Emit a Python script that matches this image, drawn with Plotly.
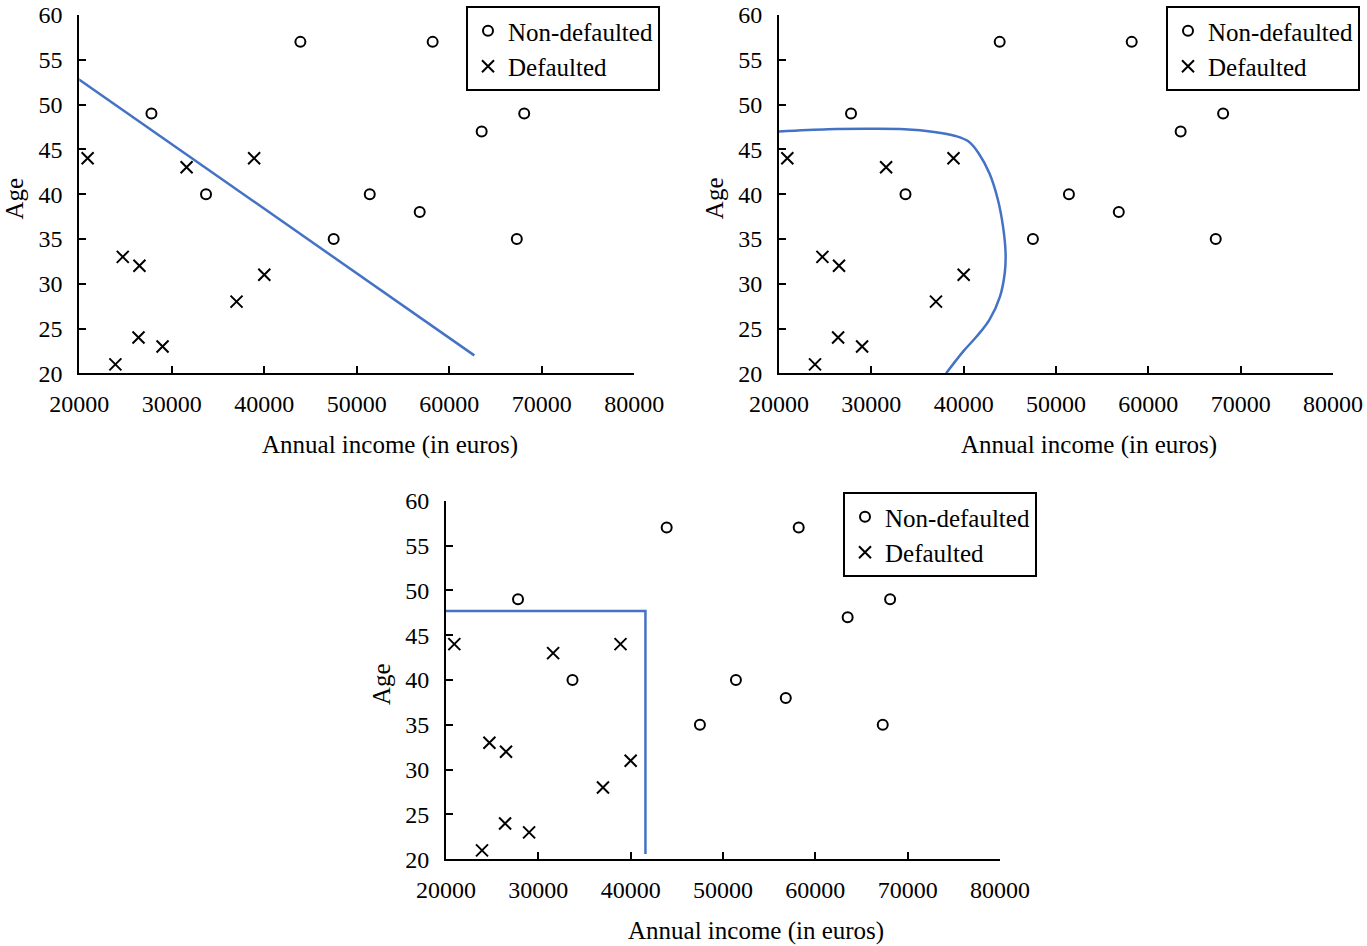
import plotly.graph_objects as go

# customers that did not default: annual income (euros) and age
nondef_income = [43900, 58200, 27800, 63500, 68100, 33700, 51400, 56800, 47500, 67300]
nondef_age = [57, 57, 49, 47, 49, 40, 40, 38, 35, 35]

# customers that defaulted
def_income = [20900, 31600, 38900, 24700, 26500, 37000, 40000, 26400, 29000, 23900]
def_age = [44, 43, 44, 33, 32, 28, 31, 24, 23, 21]

# decision boundaries of the three classifiers
linear_x = [19700, 62700]
linear_y = [53, 22]

curve_x = [20000, 25300, 29900, 33600, 36800, 39100, 40500, 41600, 42800, 43700,
           44260, 44540, 44450, 43940, 42800, 41400, 40000, 38100]
curve_y = [47.0, 47.25, 47.3, 47.25, 46.95, 46.5, 45.9, 44.6, 42.3, 39.4,
           36.4, 33.4, 31.2, 28.6, 26.0, 24.1, 22.5, 20.0]

tree_x = [20000, 41600, 41600]
tree_y = [47.7, 47.7, 20.6]

x_ticks = [20000, 30000, 40000, 50000, 60000, 70000, 80000]
y_ticks = [20, 25, 30, 35, 40, 45, 50, 55, 60]

FONT = "Liberation Serif"
BLUE = "#4472C4"

boundaries = [(linear_x, linear_y, "linear"), (curve_x, curve_y, "spline"), (tree_x, tree_y, "linear")]

fig = go.Figure()

for i, (bx, by, shape) in enumerate(boundaries):
    n = "" if i == 0 else str(i + 1)
    leg = "legend" + n
    fig.add_trace(go.Scatter(x=nondef_income, y=nondef_age, mode="markers", name="Non-defaulted",
                             xaxis="x" + n, yaxis="y" + n, legend=leg,
                             marker=dict(symbol="circle-open", size=10, color="black", line=dict(width=2))))
    fig.add_trace(go.Scatter(x=def_income, y=def_age, mode="markers", name="Defaulted",
                             xaxis="x" + n, yaxis="y" + n, legend=leg,
                             marker=dict(symbol="x-thin-open", size=12, color="black", line=dict(width=2, color="black"))))
    fig.add_trace(go.Scatter(x=bx, y=by, mode="lines", showlegend=False,
                             xaxis="x" + n, yaxis="y" + n,
                             line=dict(color=BLUE, width=2.5, shape=shape)))

W, H = 1367, 946
# plot areas in pixels: left, right, top, bottom
areas = [(79.3, 634.3, 15, 373.3), (779, 1333, 15, 373.3), (446, 1000, 500.7, 859.3)]
legends = [(466, 6), (1166, 6), (843, 492)]

def px(x):
    return x / W

def py(y):
    return 1 - y / H

axis_common = dict(showline=True, linecolor="black", linewidth=2, ticks="inside", ticklen=7,
                   tickwidth=1.5, tickcolor="black", showgrid=False, zeroline=False,
                   automargin=False,
                   tickfont=dict(family=FONT, size=24, color="black"))

layout = dict(width=W, height=H, margin=dict(l=0, r=0, t=0, b=0, autoexpand=False),
              font=dict(family=FONT, color="black"),
              plot_bgcolor="white", paper_bgcolor="white", annotations=[])

for i, (l, r, t, b) in enumerate(areas):
    n = "" if i == 0 else str(i + 1)
    layout["xaxis" + n] = dict(axis_common, domain=[px(l), px(r)], range=[20000, 80000],
                               tickvals=x_ticks, tickformat="d", anchor="y" + n,
                               ticklabelstandoff=8)
    layout["yaxis" + n] = dict(axis_common, domain=[py(b), py(t)], range=[20, 60],
                               tickvals=y_ticks, anchor="x" + n, ticklabelstandoff=10)
    lx, ly = legends[i]
    layout["legend" + n] = dict(x=px(lx), y=py(ly), xanchor="left", yanchor="top",
                                bordercolor="black", borderwidth=2, bgcolor="white",
                                font=dict(family=FONT, size=25, color="black"),
                                tracegroupgap=0)
    # axis titles
    layout["annotations"].append(dict(text="Annual income (in euros)", xref="paper", yref="paper",
                                      x=px((l + r) / 2 + 33), y=py(b + 72),
                                      xanchor="center", yanchor="middle", showarrow=False,
                                      font=dict(family=FONT, size=25, color="black")))
    layout["annotations"].append(dict(text="Age", xref="paper", yref="paper", textangle=-90,
                                      x=px(l - 65), y=py((t + b) / 2 + 4),
                                      xanchor="center", yanchor="middle", showarrow=False,
                                      font=dict(family=FONT, size=25, color="black")))

fig.update_layout(layout)
# drop the default body margin so the figure sits at the page corner
fig.write_html("out.html", config={"displayModeBar": False},
               post_script="document.body.style.margin = '0px';")
